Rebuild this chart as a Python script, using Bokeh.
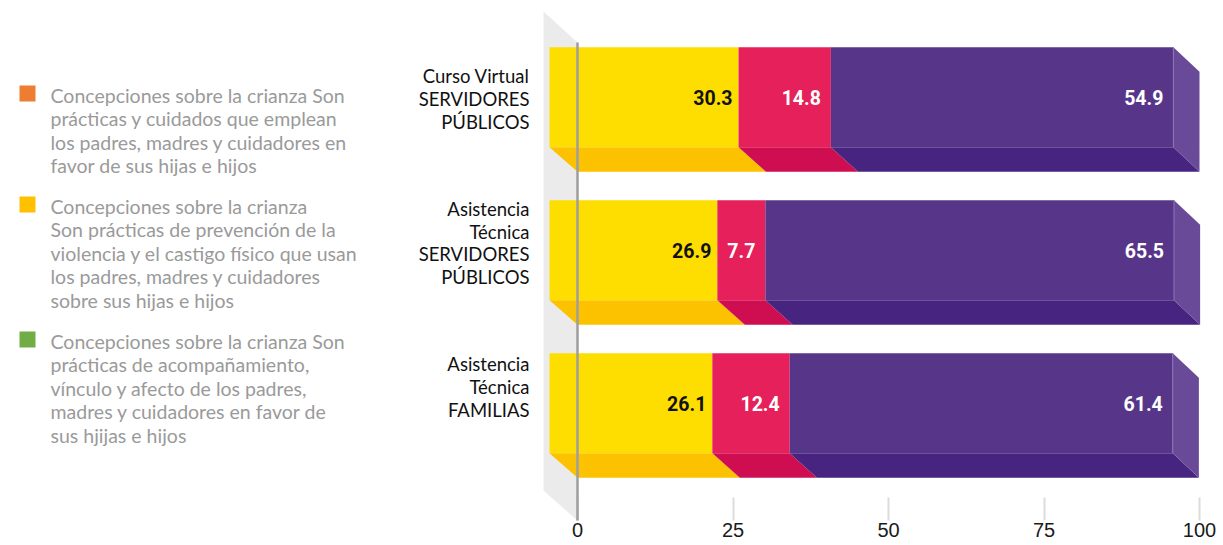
from bokeh.plotting import figure
from bokeh.models import Range1d, FixedTicker
from bokeh.core.properties import value
from bokeh.embed import file_html
from bokeh.resources import INLINE

# ---------------- data ----------------
categories = [
    "Curso Virtual\nSERVIDORES\nPÚBLICOS",
    "Asistencia\nTécnica\nSERVIDORES\nPÚBLICOS",
    "Asistencia\nTécnica\nFAMILIAS",
]
serie_amarilla = [30.3, 26.9, 26.1]
serie_roja = [14.8, 7.7, 12.4]
serie_morada = [54.9, 65.5, 61.4]
x_ticks = [0, 25, 50, 75, 100]
legend_labels = [
    "Concepciones sobre la crianza Son\nprácticas y cuidados que emplean\nlos padres, madres y cuidadores en\nfavor de sus hijas e hijos",
    "Concepciones sobre la crianza\nSon prácticas de prevención de la\nviolencia y el castigo físico que usan\nlos padres, madres y cuidadores\nsobre sus hijas e hijos",
    "Concepciones sobre la crianza Son\nprácticas de acompañamiento,\nvínculo y afecto de los padres,\nmadres y cuidadores en favor de\nsus hjijas e hijos",
]

# ---------------- styles / layout ----------------
legend_colors = ["#ED7D31", "#FFC000", "#70AD47"]
front_colors = ["#FEDE00", "#E5205A", "#573689"]
bottom_colors = ["#FCC200", "#CF0E52", "#47247F"]
side_color = "#694A98"
label_colors = ["#111111", "#FFFFFF", "#FFFFFF"]
label_pad = [6, 10, 10]

W, H = 1223, 545
FRAME_H = 520
PX = 6.22        # pixels per value unit
X0 = 577         # canvas x of value 0 (back plane)
PITCH = 153      # pixels between bars
Y0 = 96.7        # canvas y of first bar front centre

def xu(px):
    return (px - X0) / PX

def yu(py):
    return (py - Y0) / PITCH

HALF = 50 / PITCH          # half height of front face
DY = 24.5 / PITCH          # depth (vertical)
FRONT_OFF = -4.5           # front plane offset (value units)
FRONT_SCALE = 1.003

def front(v):
    return FRONT_OFF + v * FRONT_SCALE

p = figure(width=W, height=H, output_backend="svg", toolbar_location=None,
           x_range=Range1d(xu(0), xu(W)), y_range=Range1d(yu(FRAME_H), yu(0)),
           y_axis_location=None, min_border_left=0, min_border_right=0,
           min_border_top=0, min_border_bottom=H - FRAME_H,
           outline_line_color=None)
p.grid.visible = False
p.background_fill_color = "white"
p.border_fill_color = "white"

# label / legend coordinate systems
CAT_Y0, CAT_PITCH = 98.5, 144
p.extra_y_ranges = {
    "cat": Range1d((FRAME_H - CAT_Y0) / CAT_PITCH, -CAT_Y0 / CAT_PITCH),
    "ly": Range1d(FRAME_H, 0),
}
p.extra_x_ranges = {"lx": Range1d(0, W)}

# back wall
p.patch(x=[xu(543), 0, 0, xu(543)],
        y=[yu(11), yu(42), yu(FRAME_H), yu(490)],
        color="#EBEBEB", line_color=None)

# bars
series = [serie_amarilla, serie_roja, serie_morada]
for i in range(len(categories)):
    cum = 0.0
    for s, vals in enumerate(series):
        v0, v1 = cum, cum + vals[i]
        cum = v1
        p.patch(x=[front(v0), front(v1), v1, v0],
                y=[i + HALF, i + HALF, i + HALF + DY, i + HALF + DY],
                color=bottom_colors[s], line_color=None)
        p.quad(left=[front(v0)], right=[front(v1)], top=[i - HALF], bottom=[i + HALF],
               color=front_colors[s], line_color=None)
    p.patch(x=[front(cum), cum, cum, front(cum)],
            y=[i - HALF, i - HALF + DY, i + HALF + DY, i + HALF],
            color=side_color, line_color=None)
    p.segment(x0=[front(cum)], y0=[i - HALF], x1=[front(cum)], y1=[i + HALF],
              line_color="#8C76B5", line_width=1)

# value labels
for s, vals in enumerate(series):
    cum = [sum(series[j][k] for j in range(s + 1)) for k in range(len(vals))]
    p.text(x=[front(c) for c in cum], y=list(range(len(vals))),
           text=[f"{v:.1f}" for v in vals], x_offset=-label_pad[s],
           text_align="right", text_baseline="middle",
           text_font=value("Roboto"), text_font_style="bold",
           text_font_size="19.5px", text_color=label_colors[s])

# dark axis line at 0
p.segment(x0=[0], y0=[yu(42)], x1=[0], y1=[yu(FRAME_H)],
          line_color="#9E9E9E", line_width=2.5, level="overlay")

# category labels
CAT_FS = 18.5
p.text(x=[xu(529)] * len(categories), y=list(range(len(categories))),
       text=categories, y_range_name="cat",
       text_align="right", text_baseline="middle",
       text_font=value("Lato"), text_font_size=f"{CAT_FS}px",
       text_line_height=23 / (CAT_FS * 1.2), text_color="#111111")

# legend (manual)
LEG_FS = 19.5
LINE = 24
GAP = 15
cy = 94
ys_sq, ys_txt = [], []
for lab in legend_labels:
    ys_sq.append(cy - 1)
    ys_txt.append(cy - 11)
    cy += lab.count("\n") * LINE + LINE + GAP
p.scatter(x=[27] * 3, y=ys_sq, size=16, marker="square", color=legend_colors,
          line_color=None, x_range_name="lx", y_range_name="ly")
p.text(x=[50] * 3, y=ys_txt, text=legend_labels, x_range_name="lx", y_range_name="ly",
       text_align="left", text_baseline="top",
       text_font=value("Lato"), text_font_size=f"{LEG_FS}px",
       text_line_height=LINE / (LEG_FS * 1.2), text_color="#9A9A9A")

# x axis
ax = p.xaxis[0]
ax.ticker = FixedTicker(ticks=x_ticks)
ax.axis_line_color = None
ax.major_tick_in = 23
ax.major_tick_out = 0
ax.major_tick_line_color = "#DCDCDC"
ax.major_tick_line_width = 2
ax.minor_tick_line_color = None
ax.major_label_standoff = 2
ax.major_label_text_font = "Liberation Sans"
ax.major_label_text_font_size = "20px"
ax.major_label_text_color = "#1a1a1a"

open("out.html", "w").write(file_html(p, INLINE))
